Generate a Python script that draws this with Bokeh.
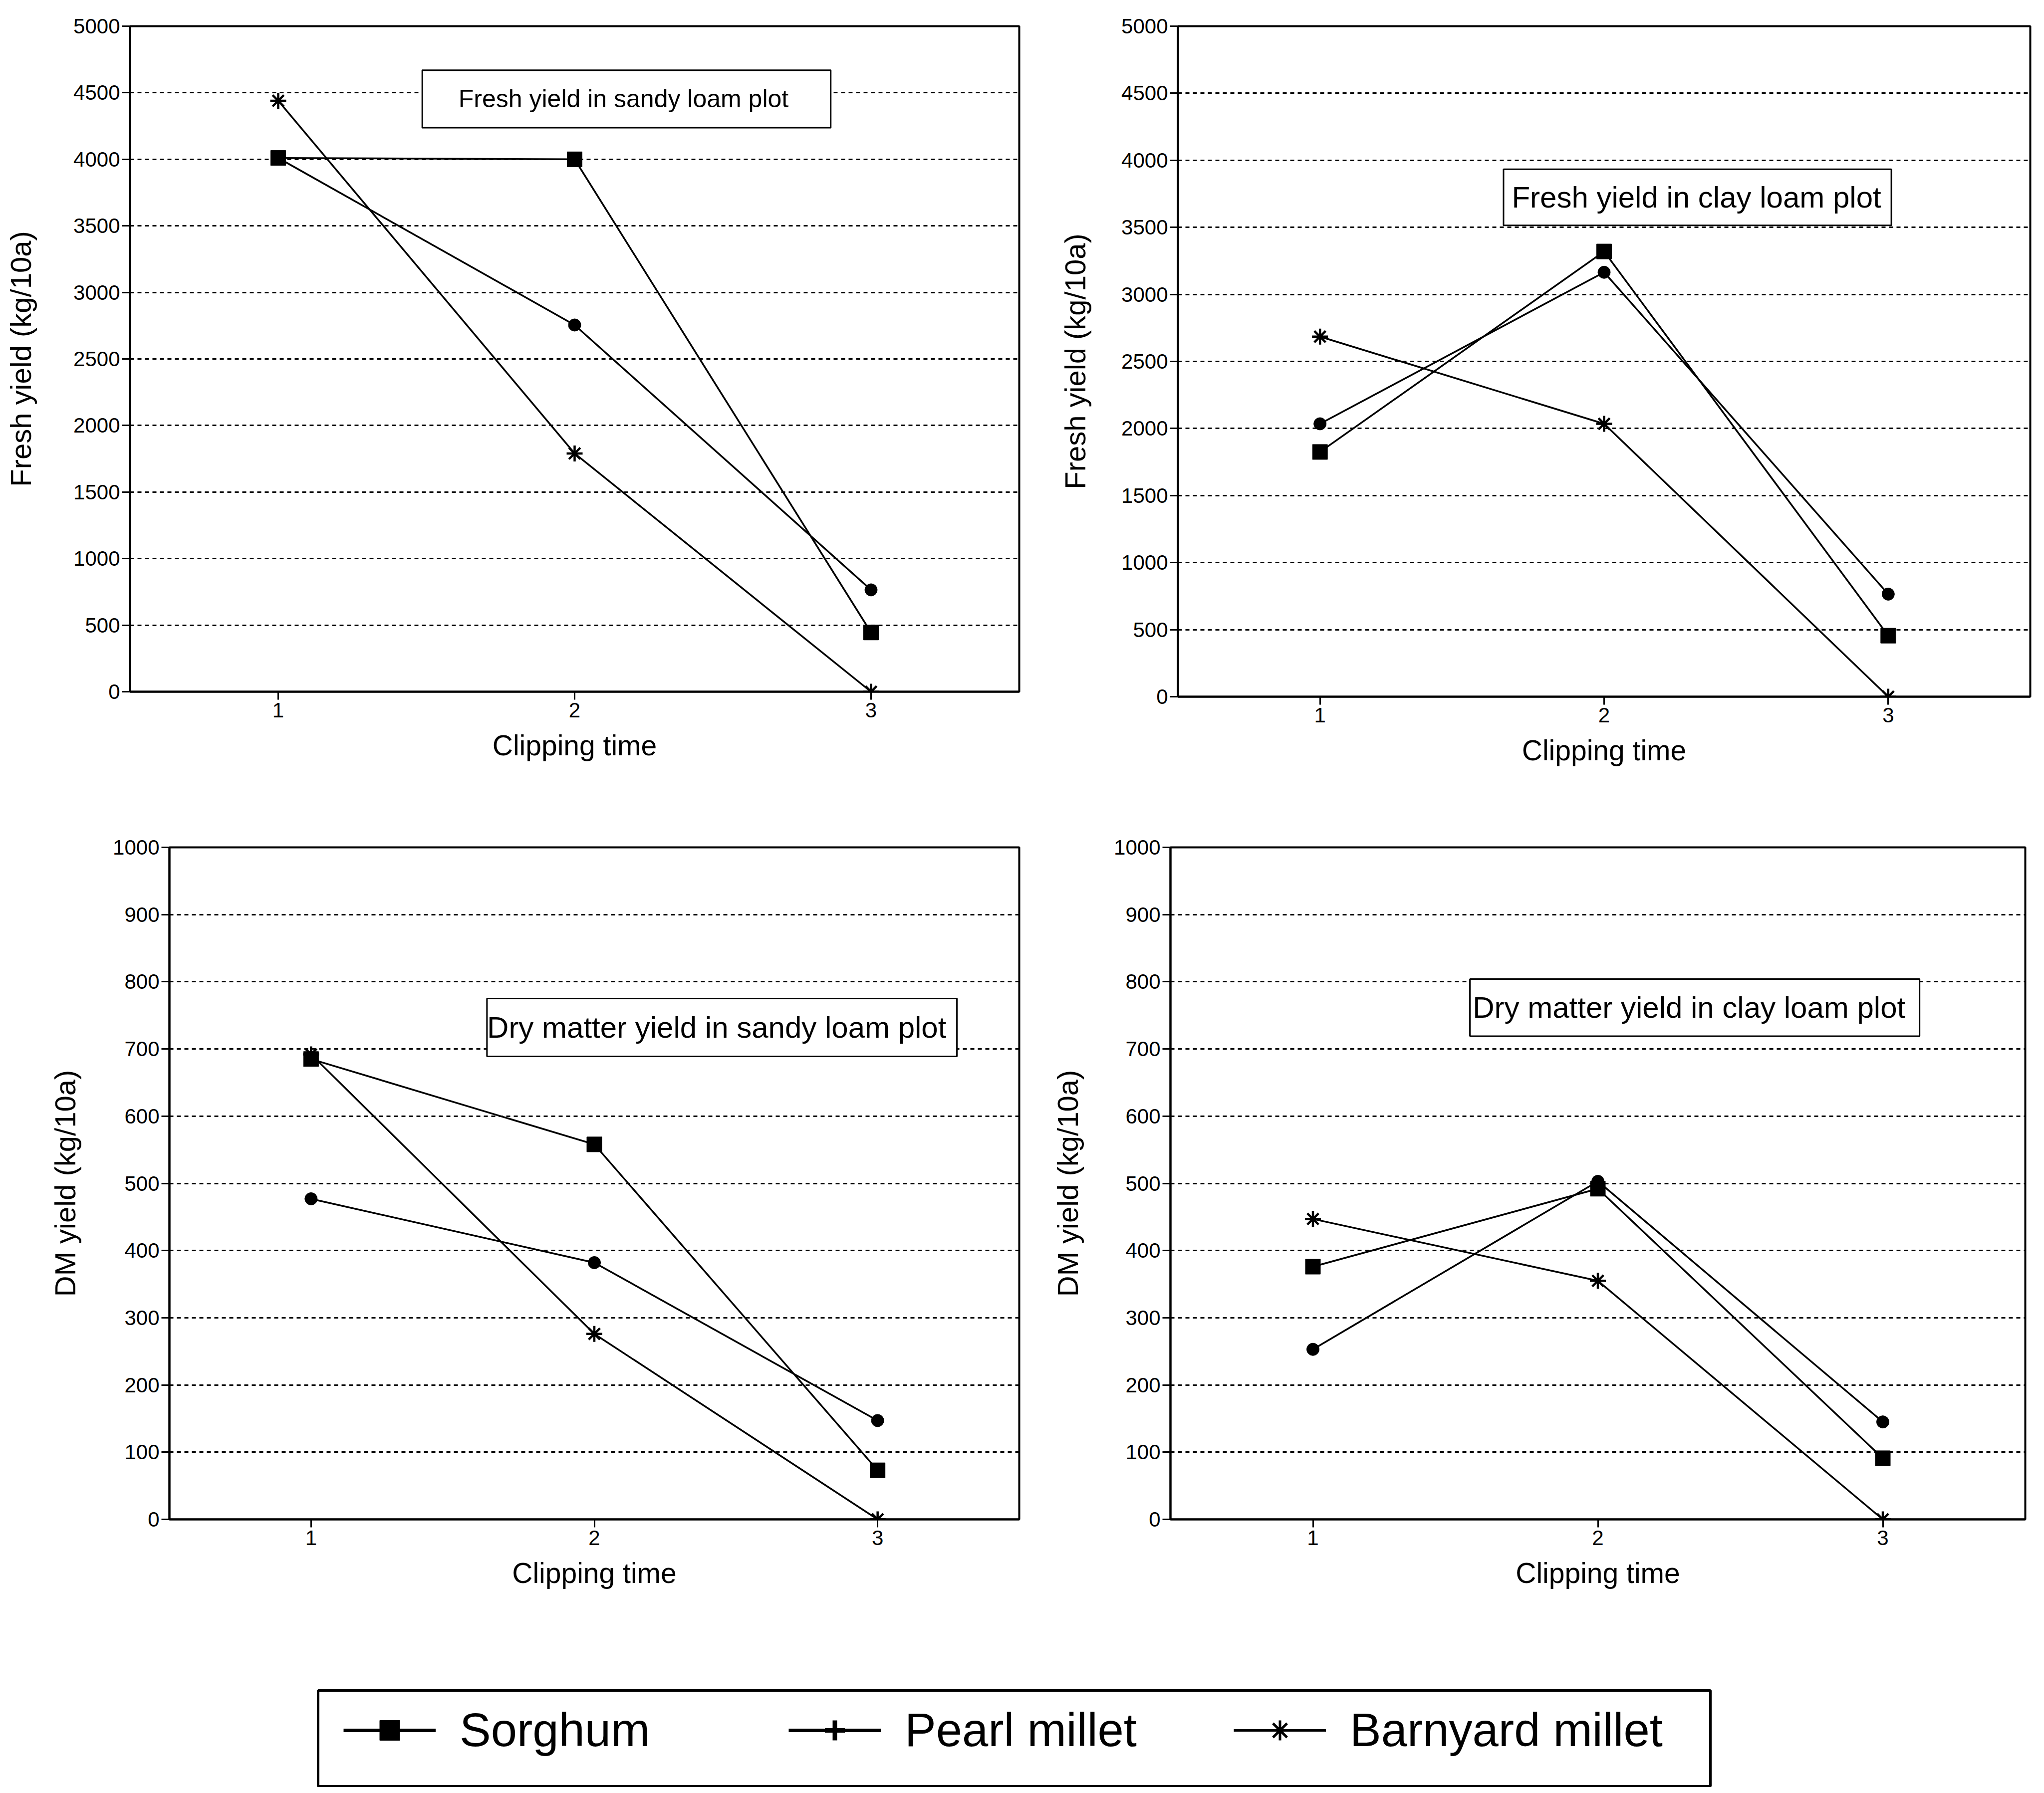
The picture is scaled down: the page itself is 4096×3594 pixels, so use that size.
from bokeh.plotting import figure
from bokeh.models import Range1d, FixedTicker, Label, BoxAnnotation, Legend, LegendItem
from bokeh.layouts import column, row
from bokeh.embed import file_html
from bokeh.resources import INLINE

# ---------------- data ----------------
clip_time = [1, 2, 3]
x_tick_labels = ["1", "2", "3"]

fresh_sandy_sorghum = [4010, 4000, 445]
fresh_sandy_pearl = [4010, 2755, 765]
fresh_sandy_barnyard = [4440, 1790, 0]

fresh_clay_sorghum = [1825, 3320, 455]
fresh_clay_pearl = [2035, 3165, 765]
fresh_clay_barnyard = [2685, 2035, 0]

dm_sandy_sorghum = [685, 558, 73]
dm_sandy_pearl = [477, 382, 147]
dm_sandy_barnyard = [692, 276, 0]

dm_clay_sorghum = [376, 492, 91]
dm_clay_pearl = [253, 503, 145]
dm_clay_barnyard = [447, 355, 0]

fresh_ticks = [0, 500, 1000, 1500, 2000, 2500, 3000, 3500, 4000, 4500, 5000]
dm_ticks = [0, 100, 200, 300, 400, 500, 600, 700, 800, 900, 1000]

series_names = ["Sorghum", "Pearl millet", "Barnyard millet"]

FONT = "Liberation Sans"
NAN = float("nan")


def make_panel(series, ticks, ylabel, title, box, text_x, title_size,
               fw, fh, bl, br, bt, bb, ylab_standoff):
    p = figure(frame_width=fw, frame_height=fh,
               min_border_left=bl, min_border_right=br,
               min_border_top=bt, min_border_bottom=bb,
               x_range=Range1d(0.5, 3.5), y_range=Range1d(ticks[0], ticks[-1]),
               output_backend="svg", toolbar_location=None,
               background_fill_color="white", border_fill_color="white")
    p.xaxis.ticker = FixedTicker(ticks=clip_time, minor_ticks=[])
    p.xaxis.major_label_overrides = {t: s for t, s in zip(clip_time, x_tick_labels)}
    p.yaxis.ticker = FixedTicker(ticks=ticks, minor_ticks=[])
    p.xgrid.visible = False
    p.ygrid.grid_line_color = "black"
    p.ygrid.grid_line_dash = "8 7"
    p.ygrid.grid_line_width = 3
    p.outline_line_color = "black"
    p.outline_line_width = 4
    p.outline_line_alpha = 1
    for ax in (p.xaxis[0], p.yaxis[0]):
        ax.axis_line_color = "black"
        ax.axis_line_width = 4
        ax.major_tick_line_color = "black"
        ax.major_tick_line_width = 3
        ax.major_tick_out = 16
        ax.major_tick_in = 0
        ax.minor_tick_out = 0
        ax.minor_tick_in = 0
        ax.major_label_text_font = FONT
        ax.major_label_text_font_size = "42px"
        ax.major_label_text_color = "black"
        ax.axis_label_text_font = FONT
        ax.axis_label_text_font_style = "normal"
        ax.axis_label_text_color = "black"
    p.yaxis.major_label_standoff = 4
    p.xaxis.major_label_standoff = 6
    p.xaxis.axis_label = "Clipping time"
    p.xaxis.axis_label_text_font_size = "57px"
    p.xaxis.axis_label_standoff = 21
    p.yaxis.axis_label = ylabel
    p.yaxis.axis_label_text_font_size = "58px"
    p.yaxis.axis_label_standoff = ylab_standoff

    sorghum, pearl, barnyard = series
    p.line(clip_time, sorghum, line_color="black", line_width=3.5)
    p.scatter(clip_time, sorghum, marker="square", size=30, fill_color="black", line_color="black")
    p.line(clip_time, pearl, line_color="black", line_width=3.5)
    p.scatter(clip_time, pearl, marker="circle", size=25, fill_color="black", line_color="black")
    p.line(clip_time, barnyard, line_color="black", line_width=3.5)
    p.scatter(clip_time, barnyard, marker="asterisk", size=32, line_color="black", line_width=4.5)

    left, right, bottom, top = box
    p.add_layout(BoxAnnotation(left=left, right=right, bottom=bottom, top=top,
                               fill_color="white", fill_alpha=1.0,
                               line_color="black", line_width=3, line_alpha=1.0))
    p.add_layout(Label(x=text_x, y=(bottom + top) / 2, text=title,
                       text_align="center", text_baseline="middle",
                       text_font=FONT, text_font_size=title_size,
                       text_color="black"))
    return p


p1 = make_panel((fresh_sandy_sorghum, fresh_sandy_pearl, fresh_sandy_barnyard), fresh_ticks,
                "Fresh yield (kg/10a)", "Fresh yield in sandy loam plot",
                (1.486, 2.864, 4237, 4669), 2.165, "50px",
                1782, 1334, 260, 40, 32, 234, 70)
p2 = make_panel((fresh_clay_sorghum, fresh_clay_pearl, fresh_clay_barnyard), fresh_ticks,
                "Fresh yield (kg/10a)", "Fresh yield in clay loam plot",
                (1.646, 3.011, 3515, 3933), 2.325, "60px",
                1708, 1344, 278, 12, 52, 204, 57)
p3 = make_panel((dm_sandy_sorghum, dm_sandy_pearl, dm_sandy_barnyard), dm_ticks,
                "DM yield (kg/10a)", "Dry matter yield in sandy loam plot",
                (1.621, 3.28, 689, 775), 2.432, "60px",
                1703, 1347, 339, 40, 96, 297, 60)
p4 = make_panel((dm_clay_sorghum, dm_clay_pearl, dm_clay_barnyard), dm_ticks,
                "DM yield (kg/10a)", "Dry matter yield in clay loam plot",
                (1.551, 3.129, 719, 804), 2.320, "60px",
                1713, 1347, 263, 22, 98, 295, 57)

# ---------------- legend panel ----------------
lp = figure(frame_width=2790, frame_height=192,
            min_border_left=637, min_border_right=653,
            min_border_top=48, min_border_bottom=2,
            x_range=Range1d(0, 1), y_range=Range1d(0, 1),
            x_axis_location=None, y_axis_location=None,
            output_backend="svg", toolbar_location=None,
            background_fill_color="white", border_fill_color="white")
lp.grid.visible = False
lp.outline_line_color = "black"
lp.outline_line_width = 5
lp.outline_line_alpha = 1

# placeholder renderers (NaN data: nothing drawn in the frame, only legend glyphs)
ls_line = lp.line([NAN], [NAN], line_color="black", line_width=7)
ls_mark = lp.scatter([NAN], [NAN], marker="square", fill_color="black", line_color="black")
lpm_line = lp.line([NAN], [NAN], line_color="black", line_width=7)
lpm_mark = lp.scatter([NAN], [NAN], marker="cross", line_color="black", line_width=9)
lb_line = lp.line([NAN], [NAN], line_color="black", line_width=5)
lb_mark = lp.scatter([NAN], [NAN], marker="asterisk", line_color="black", line_width=5)

legend = Legend(items=[LegendItem(label=series_names[0], renderers=[ls_line, ls_mark]),
                       LegendItem(label=series_names[1], renderers=[lpm_line, lpm_mark]),
                       LegendItem(label=series_names[2], renderers=[lb_line, lb_mark])],
                orientation="horizontal", location=(51, 58),
                glyph_width=185, glyph_height=100,
                label_standoff=48, label_width=611, label_height=100, spacing=48,
                padding=0, margin=0,
                border_line_alpha=0, background_fill_alpha=0,
                label_text_font=FONT, label_text_font_size="94px",
                label_text_color="black")
lp.add_layout(legend)

layout = column(row(p1, p2, spacing=0), row(p3, p4, spacing=0), lp, spacing=0)

with open("out.html", "w") as f:
    f.write(file_html(layout, INLINE))
